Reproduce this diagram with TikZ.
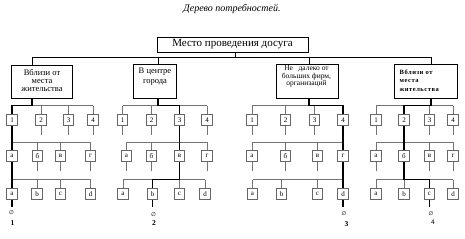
\documentclass[tikz,border=0pt]{standalone}
\usepackage{fontspec}
\setmainfont{Liberation Serif}
\newfontfamily\symfont{DejaVu Sans}
\newfontfamily\spacedfont[LetterSpace=8]{Liberation Serif}
\newcommand\cyrlab[1]{\ifcase#1\or а\or б\or в\or г\fi}
\newcommand\latlab[1]{\ifcase#1\or a\or b\or c\or d\fi}
% #1 name, #2 x of vertical, #3-#5 row x lists, #6-#8 selected indices
\newcommand\grp[8]{%
  \foreach \x [count=\i] in {#3} {\node[sbox] (#1-r1-\i) at (\x,120) {\i};}
  \foreach \x [count=\i] in {#4} {\node[sbox] (#1-r2-\i) at (\x,156) {\cyrlab{\i}};}
  \foreach \x [count=\i] in {#5} {\node[sbox] (#1-r3-\i) at (\x,194) {\latlab{\i}};}
  \draw[tline] (#1-r1-1.north |- 0,105.5) -- (#1-r1-4.north |- 0,105.5);
  \draw[tline] (#1-r2-1.north |- 0,142) -- (#1-r2-4.north |- 0,142);
  \draw[tline] (#1-r3-1.north |- 0,179.5) -- (#1-r3-4.north |- 0,179.5);
  \foreach \i in {1,...,4} {
    \draw[tline] (#1-r1-\i.north) -- (#1-r1-\i.north |- 0,105.5);
    \draw[tline] (#1-r1-\i.south) -- ++(0,8.5);
    \draw[tline] (#1-r2-\i.north) -- (#1-r2-\i.north |- 0,142);
    \draw[tline] (#1-r2-\i.south) -- ++(0,9);
    \draw[tline] (#1-r3-\i.north) -- (#1-r3-\i.north |- 0,179.5);
  }
  \draw[kline] (#1.south -| #2,0) -- (#2,105.5) -| (#1-r1-#6.north);
  \draw[kline] (#1-r1-#6.south) -- (#1-r1-#6.south |- 0,142) -| (#1-r2-#7.north);
  \draw[kline] (#1-r2-#7.south) -- (#1-r2-#7.south |- 0,179.5) -| (#1-r3-#8.north);
  \draw[kline] (#1-r3-#8.south) -- ++(0,7) coordinate (#1-end);
}
\begin{document}
\begin{tikzpicture}[x=1pt,y=-1pt,
  sbox/.style={draw=black!60, line width=0.6pt, minimum width=10.5pt,
    minimum height=11.5pt, inner sep=0pt, font=\fontsize{7}{7}\selectfont},
  lbox/.style={draw=black, line width=0.7pt, inner sep=0pt},
  ltext/.style={inner sep=0pt, align=center},
  tline/.style={draw=black!55, line width=0.6pt},
  kline/.style={draw=black, line width=1.4pt},
  mline/.style={draw=black, line width=0.7pt},
  nullsym/.style={inner sep=0pt, font=\symfont\fontsize{5.5}{6}\selectfont},
  numlab/.style={inner sep=0pt, font=\fontsize{7.5}{8}\selectfont}]
\useasboundingbox (0,0) rectangle (465,238);
% title
\node[inner sep=0pt, font=\itshape\fontsize{10}{10}\selectfont] (title) at (232,9) {Дерево потребностей.};
% root
\node[lbox, minimum width=151pt, minimum height=15pt, font=\fontsize{11}{11}\selectfont] (root) at (232.5,44.5) {Место проведения досуга};
\coordinate (barA) at (32,57);
\coordinate (barB) at (158,57);
\coordinate (barC) at (309,57);
\coordinate (barD) at (431,57);
\coordinate (barR) at (235,57);
\draw[mline] (barA) -- (barD);
\draw[mline] (root.south -| barR) -- (barR);
% level 1 boxes
\node[lbox, minimum width=61pt, minimum height=33pt] (A) at (41.5,81.5) {};
\node[lbox, minimum width=43pt, minimum height=34pt] (B) at (154.5,81) {};
\node[lbox, minimum width=62pt, minimum height=34pt] (C) at (307,81) {};
\node[lbox, minimum width=63pt, minimum height=34pt] (D) at (425.5,81) {};
\node[ltext, font=\fontsize{8.5}{8.3}\selectfont] (At) at (42,80.5) {Вблизи от\\места\\жительства};
\node[ltext, font=\fontsize{8.5}{10}\selectfont] (Bt) at (155,77) {В центре\\города};
\node[ltext, font=\fontsize{7.5}{6.7}\selectfont] (Ct) at (306.5,76.5) {Не \ \ далеко от\\больших фирм,\\организаций};
\node[ltext, align=left, anchor=west, font=\spacedfont\bfseries\fontsize{6.5}{8.5}\selectfont] (Dt) at (399.5,80.7) {Вблизи от\\места\\жительства};
\draw[mline] (barA) -- (A.north -| barA);
\draw[mline] (barB) -- (B.north -| barB);
\draw[mline] (barC) -- (C.north -| barC);
\draw[mline] (barD) -- (D.north -| barD);
% groups
\grp{A}{32}{12,41,68.5,93}{12,37.5,60.5,90.5}{12,37,60.5,90.5}{1}{1}{1}
\grp{B}{158}{122.5,151.5,179.5,207}{126.5,151.5,179.5,207}{123,152.5,179.5,205}{3}{3}{2}
\grp{C}{309}{252,285.5,314.5,343}{252,285.5,317.5,343}{252.5,281.5,317.5,343}{4}{4}{4}
\grp{D}{431}{376,404,429.5,453}{376,404,429.5,453}{376,404,429.5,453}{2}{2}{3}
% end labels
\node[nullsym] (A-null) at (11.5,213) {∅};
\node[numlab, font=\bfseries\fontsize{7.5}{8}\selectfont] (A-num) at (12.5,223.5) {1};
\node[nullsym] (B-null) at (153.5,214.5) {∅};
\node[numlab, font=\bfseries\fontsize{7.5}{8}\selectfont] (B-num) at (154,223.5) {2};
\node[nullsym] (C-null) at (344,214) {∅};
\node[numlab, font=\bfseries\fontsize{7.5}{8}\selectfont] (C-num) at (346.5,224) {3};
\node[nullsym] (D-null) at (431,214) {∅};
\node[numlab, font=\sffamily\fontsize{7}{8}\selectfont] (D-num) at (433,222.5) {4};
\end{tikzpicture}
\end{document}
